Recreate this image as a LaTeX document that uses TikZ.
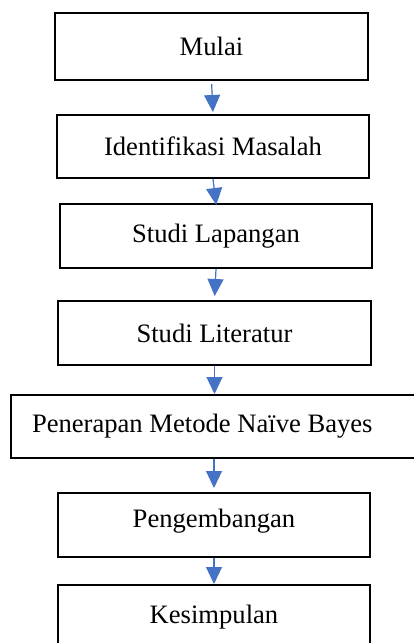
\documentclass[tikz,border=0pt]{standalone}
\usepackage{fontspec}
\setmainfont{Liberation Serif}
\usetikzlibrary{arrows.meta}
\definecolor{ArrLine}{RGB}{68,114,196}
\tikzset{
  nd_box/.style={
    rectangle, draw=black, line width=2pt, fill=white,
    minimum width=312pt, minimum height=64pt,
    align=center, inner sep=0pt,
    font=\fontsize{26.6}{30}\selectfont},
  arr/.style={-{Triangle[length=17pt,width=16pt]},
    draw=ArrLine, fill=ArrLine, line width=1.2pt},
}

\begin{document}
\begin{tikzpicture}[x=1pt,y=-1pt]

\useasboundingbox (0,0) rectangle (414,643);

\node[nd_box,minimum width=313pt,minimum height=67pt] at (211.5,46.5) (B1){Mulai};
\node[nd_box,minimum height=63pt] at (213,146.5) (B2){Identifikasi Masalah};
\node[nd_box] at (216,236)   (B3){Studi Lapangan};
\node[nd_box,minimum width=313pt] at (214.5,333) (B4){Studi Literatur};
\node[nd_box,anchor=west,minimum width=408pt,minimum height=63pt,
      text width=366pt,align=flush left,inner xsep=21pt] at (10,426.5)
      (B5){Penerapan Metode Naïve Bayes};
\node[nd_box,text depth=14pt] at (214,525) (B6){Pengembangan};
\node[nd_box] at (214,617)   (B7){Kesimpulan};

\draw[arr,shorten <=3pt,shorten >=2pt] (B1.south)--(B2.north);
\draw[arr,shorten >=-2pt] (B2.south)--(B3.north);
\draw[arr,shorten >=4pt] (B3.south)--(B4.north);
\draw[arr] (B4.south)--(B5.north -| B4.south);
\draw[arr,shorten >=4pt] (B5.south -| B6.north)--(B6.north);
\draw[arr] (B6.south)--(B7.north);

\end{tikzpicture}
\end{document}
